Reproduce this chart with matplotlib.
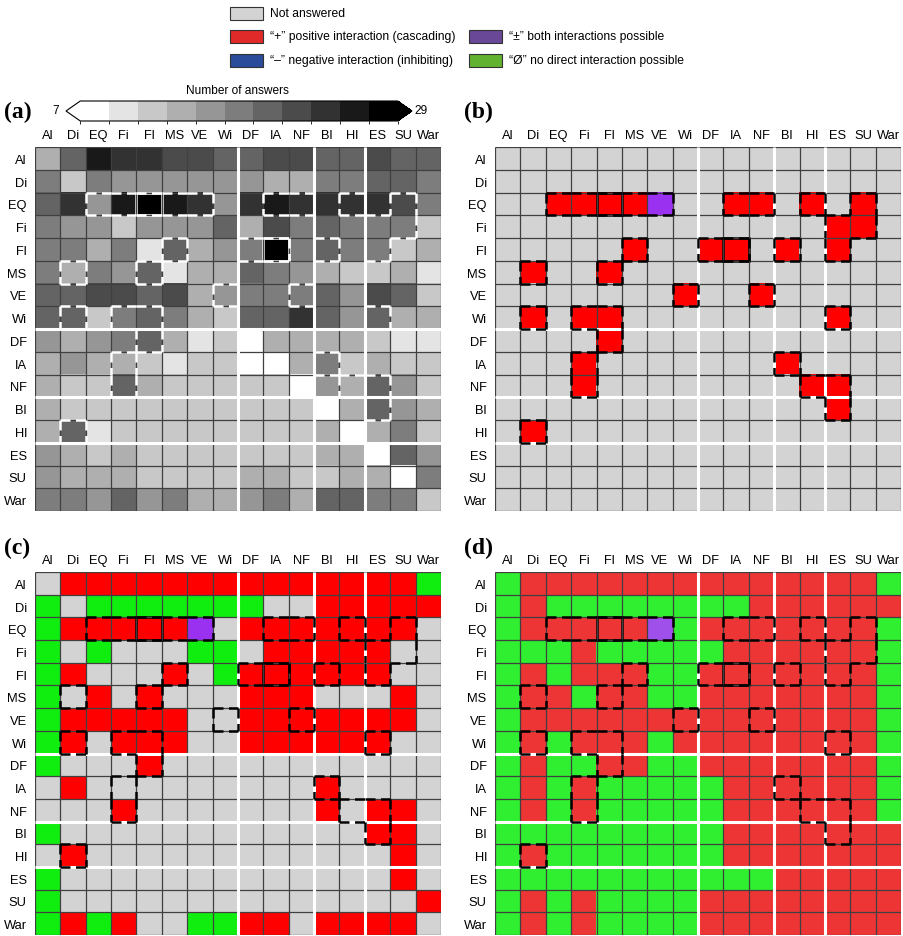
import numpy as np
import matplotlib
matplotlib.use("Agg")
import matplotlib.pyplot as plt
from matplotlib.colors import ListedColormap, BoundaryNorm
from matplotlib.collections import LineCollection
from matplotlib.patches import Rectangle

plt.rcParams["font.family"] = ["Liberation Sans", "DejaVu Sans"]

labels = ["Al", "Di", "EQ", "Fi", "Fl", "MS", "VE", "Wi",
          "DF", "IA", "NF", "Bl", "Hl", "ES", "SU", "War"]

# (a) number of answers per cell (row = from, column = to)
answers = [
    [14, 19, 26, 23, 23, 21, 21, 20, 20, 21, 21, 19, 19, 21, 19, 20],
    [17, 11, 17, 15, 16, 15, 15, 15, 15, 13, 14, 18, 18, 20, 19, 18],
    [19, 24, 16, 26, 29, 26, 24, 15, 24, 26, 24, 24, 23, 24, 21, 18],
    [17, 15, 15, 11, 15, 16, 15, 19, 13, 21, 17, 19, 17, 17, 17, 11],
    [18, 17, 14, 17, 9, 19, 13, 15, 17, 29, 17, 19, 17, 17, 12, 13],
    [18, 14, 18, 15, 20, 9, 13, 13, 20, 17, 16, 13, 11, 12, 13, 10],
    [20, 20, 22, 21, 20, 22, 13, 16, 17, 17, 18, 20, 15, 22, 19, 12],
    [20, 20, 12, 17, 20, 17, 13, 11, 19, 20, 23, 20, 16, 20, 13, 13],
    [15, 13, 15, 17, 20, 13, 10, 11, 7, 13, 14, 13, 13, 11, 10, 10],
    [13, 16, 13, 14, 11, 9, 12, 12, 7, 7, 14, 18, 12, 13, 11, 11],
    [13, 11, 12, 19, 13, 12, 12, 12, 11, 12, 7, 16, 14, 19, 15, 11],
    [13, 11, 12, 12, 12, 12, 11, 12, 11, 11, 12, 7, 13, 20, 15, 13],
    [13, 19, 10, 11, 11, 11, 11, 11, 11, 11, 11, 14, 7, 13, 18, 12],
    [15, 13, 12, 13, 12, 12, 12, 12, 12, 12, 12, 13, 13, 7, 20, 15],
    [15, 13, 13, 13, 11, 11, 12, 12, 13, 13, 12, 12, 13, 13, 7, 18],
    [17, 17, 15, 20, 15, 17, 14, 13, 16, 17, 13, 19, 19, 17, 18, 11],
]

# N = not answered, P = positive, B = both, Z = no direct interaction
consensus_b = [
    "NNNNNNNNNNNNNNNN",
    "NNNNNNNNNNNNNNNN",
    "NNPPPPBNNPPNPNPN",
    "NNNNNNNNNNNNNPPN",
    "NNNNNPNNPPNPNPNN",
    "NPNNPNNNNNNNNNNN",
    "NNNNNNNPNNPNNNNN",
    "NPNPPNNNNNNNNPNN",
    "NNNNPNNNNNNNNNNN",
    "NNNPNNNNNNNPNNNN",
    "NNNPNNNNNNNNPPNN",
    "NNNNNNNNNNNNNPNN",
    "NPNNNNNNNNNNNNNN",
    "NNNNNNNNNNNNNNNN",
    "NNNNNNNNNNNNNNNN",
    "NNNNNNNNNNNNNNNN",
]

majority_c = [
    "NPPPPPPPPPPPPPPZ",
    "ZNZZZZZZZNNPPPPP",
    "ZPPPPPBNPPPPPPPN",
    "ZNZNNNZZNPPPPPNN",
    "ZPNNNPNZPPPPPPNN",
    "ZNPNPNNNPPPNNNPN",
    "ZPPPPPNNPPPPPPPN",
    "ZPNPPPNNPPPPPPNN",
    "ZNNNPNNNNNNNNNNN",
    "NPNNNNNNNNNPNNNN",
    "NNNPNNNNNNNPNPPN",
    "ZNNNNNNNNNNNNPPN",
    "NPNNNNNNNNNNNNPN",
    "ZNNNNNNNNNNNNNPN",
    "ZNNNNNNNNNNNNNNP",
    "ZPZPNNZZPPNPPPPN",
]

summary_d = [
    "ZPPPPPPPPPPPPPPZ",
    "ZPZZZZZZZZPPPPPP",
    "ZPPPPPBZPPPPPPPZ",
    "ZZZPZZZZZPPPPPPZ",
    "ZPZPPPZZPPPPPPPZ",
    "ZPPZPPZZPPPPPPPZ",
    "ZPPPPPPPPPPPPPPZ",
    "ZPZPPPZPPPPPPPPZ",
    "ZPZZPPZZPPPPPPPZ",
    "ZPZPZZZZZPPPPPPZ",
    "ZPZPZZZZZPPPPPPZ",
    "ZZZZZZZZZPPPPPPP",
    "ZPZZZZZZZPPPPPPP",
    "ZZZZZZZZZZZPPPPP",
    "ZPZPZZZZPPPPPPPP",
    "ZPZPZZZZPPPPPPPP",
]

max_cells = [(2, 4), (4, 9)]
group_breaks = [7.5, 10.5, 12.5]

cb_bounds = list(range(7, 30, 2))
cb_grays = [255, 228, 200, 175, 150, 125, 100, 75, 50, 25, 0]

code_idx = {"N": 0, "P": 1, "B": 2, "Z": 3}

W, H = 904, 937
fig = plt.figure(figsize=(W / 100, H / 100), dpi=100)


def px_axes(x0, y0, x1, y1):
    return fig.add_axes([x0 / W, 1 - y1 / H, (x1 - x0) / W, (y1 - y0) / H])


highlight = np.array([[c != "N" for c in row] for row in consensus_b])


def outline_segments(mask):
    segs = []
    n = mask.shape[0]
    for i in range(n):
        for j in range(n):
            if not mask[i, j]:
                continue
            if i == 0 or not mask[i - 1, j]:
                segs.append([(j - .5, i - .5), (j + .5, i - .5)])
            if i == n - 1 or not mask[i + 1, j]:
                segs.append([(j - .5, i + .5), (j + .5, i + .5)])
            if j == 0 or not mask[i, j - 1]:
                segs.append([(j - .5, i - .5), (j - .5, i + .5)])
            if j == n - 1 or not mask[i, j + 1]:
                segs.append([(j + .5, i - .5), (j + .5, i + .5)])
    return segs


def setup(ax, mark_color):
    n = len(labels)
    ax.set_xlim(-0.5, n - 0.5)
    ax.set_ylim(n - 0.5, -0.5)
    ax.set_xticks(range(n))
    ax.set_yticks(range(n))
    ax.set_xticklabels(labels, fontsize=9.3)
    ax.set_yticklabels(labels, fontsize=9.3)
    ax.xaxis.tick_top()
    ax.tick_params(length=0, pad=4)
    ax.tick_params(axis="y", pad=6)
    for s in ax.spines.values():
        s.set_visible(False)
    k = np.arange(n + 1) - 0.5
    ax.vlines(k, -0.5, n - 0.5, color="#404040", lw=0.9)
    ax.hlines(k, -0.5, n - 0.5, color="#404040", lw=0.9)
    ax.vlines(group_breaks, -0.5, n - 0.5, color="white", lw=2.2)
    ax.hlines(group_breaks, -0.5, n - 0.5, color="white", lw=2.2)
    lc = LineCollection(outline_segments(highlight), colors=mark_color,
                        linewidths=1.8, linestyles=(0, (4, 2.2)))
    ax.add_collection(lc)
    for i, j in max_cells:
        ax.add_patch(Rectangle((j - .5, i - .5), 1, 1, fill=False,
                               ec=mark_color, lw=1.8))


def cat_panel(ax, rows, colors):
    data = np.array([[code_idx[c] for c in row] for row in rows])
    cmap = ListedColormap(colors)
    norm = BoundaryNorm([-0.5, 0.5, 1.5, 2.5, 3.5], cmap.N)
    ax.imshow(data, cmap=cmap, norm=norm, aspect="auto",
              interpolation="nearest")


# (a)
cmap_a = ListedColormap([str(g / 255) for g in cb_grays])
cmap_a.set_under("white")
cmap_a.set_over("black")
norm_a = BoundaryNorm(cb_bounds, cmap_a.N)

ax_a = px_axes(35, 148, 441, 512)
im = ax_a.imshow(np.array(answers), cmap=cmap_a, norm=norm_a, aspect="auto",
                 interpolation="nearest")
setup(ax_a, "white")

cax = px_axes(66, 102, 412, 122)
cb = fig.colorbar(im, cax=cax, orientation="horizontal", extend="both",
                  extendfrac=0.045, drawedges=False)
cb.set_ticks([])
cb.outline.set_linewidth(0.8)
fig.text(237 / W, 1 - 91 / H, "Number of answers", ha="center", va="center",
         fontsize=8.6)
fig.text(59 / W, 1 - 111 / H, "7", ha="right", va="center", fontsize=8.6)
fig.text(414 / W, 1 - 111 / H, "29", ha="left", va="center", fontsize=8.6)

# (b)
ax_b = px_axes(495, 148, 901, 512)
cat_panel(ax_b, consensus_b, ["#d3d3d3", "#ff0000", "#9a30f0", "#22e622"])
setup(ax_b, "black")

# (c)
ax_c = px_axes(35, 573, 441, 936)
cat_panel(ax_c, majority_c, ["#d3d3d3", "#ff0000", "#9a30f0", "#10ee10"])
setup(ax_c, "black")

# (d)
ax_d = px_axes(495, 573, 901, 936)
cat_panel(ax_d, summary_d, ["#d3d3d3", "#ee3535", "#a050ea", "#30ee30"])
setup(ax_d, "black")

for letter, x, y in [("(a)", 4, 112), ("(b)", 464, 112),
                     ("(c)", 4, 548), ("(d)", 464, 548)]:
    fig.text(x / W, 1 - y / H, letter, fontsize=17, fontweight="bold",
             family="Liberation Serif", ha="left", va="center")

# legend
legend_items = [
    ("Not answered", "#d3d3d3", 230, 14),
    ("\u201c+\u201d positive interaction (cascading)", "#e02a2a", 230, 37),
    ("\u201c\u2013\u201d negative interaction (inhibiting)", "#2a4c9a", 230, 61),
    ("\u201c\u00b1\u201d both interactions possible", "#6a4898", 469, 37),
    ("\u201c\u00d8\u201d no direct interaction possible", "#62b232", 469, 61),
]
for text, color, x, y in legend_items:
    fig.patches.append(Rectangle((x / W, 1 - (y + 6.5) / H), 33 / W, 13 / H,
                                 transform=fig.transFigure, fc=color,
                                 ec="#333333", lw=0.8))
    fig.text((x + 40) / W, 1 - y / H, text, ha="left", va="center",
             fontsize=8.7)

fig.savefig("out.png", dpi=100)
